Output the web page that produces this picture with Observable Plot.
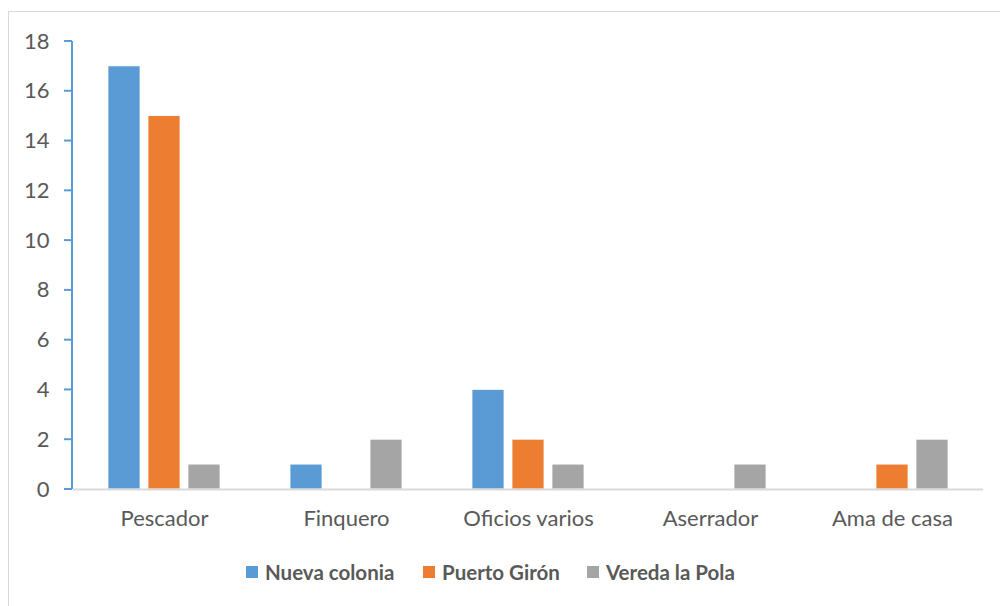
<!DOCTYPE html>
<html>
<head>
<meta charset="utf-8">
<script src="https://cdn.jsdelivr.net/npm/d3@7"></script>
<script src="https://cdn.jsdelivr.net/npm/@observablehq/plot@0.6"></script>
<style>
  html, body { margin: 0; padding: 0; background: #fff; width: 1000px; height: 606px; overflow: hidden; }
  #frame { position: absolute; left: 8px; top: 11px; width: 1100px; height: 700px; border: 1.5px solid #d9d9d9; box-sizing: border-box; }
  #chart { position: absolute; left: 0; top: 0; }
  #legend { position: absolute; left: 0; top: 550px; width: 1000px; height: 56px; font-family: Lato, "Open Sans", sans-serif; font-weight: bold; font-size: 20.5px; color: #595959; }
  .item { position: absolute; top: 10px; display: flex; align-items: center; }
  .sw { width: 12px; height: 12px; margin-right: 7px; }
</style>
</head>
<body>
<div id="frame"></div>
<div id="chart"></div>
<div id="legend"></div>
<script>
// Occupation categories and counts per locality
const categories = ["Pescador", "Finquero", "Oficios varios", "Aserrador", "Ama de casa"];
const seriesNames = ["Nueva colonia", "Puerto Girón", "Vereda la Pola"];
const nuevaColonia = [17, 1, 4, 0, 0];
const puertoGiron = [15, 0, 2, 0, 1];
const veredaLaPola = [1, 2, 1, 1, 2];
const colors = ["#5b9bd5", "#ed7d31", "#a5a5a5"];
const yTicks = [0, 2, 4, 6, 8, 10, 12, 14, 16, 18];

const seriesValues = [nuevaColonia, puertoGiron, veredaLaPola];
const rows = [];
categories.forEach((c, i) => {
  seriesNames.forEach((s, j) => rows.push({category: c, series: s, value: seriesValues[j][i]}));
});

const chart = Plot.plot({
  width: 1000,
  height: 550,
  marginLeft: 72,
  marginRight: 17,
  marginTop: 41,
  marginBottom: 61,
  style: {fontFamily: "Lato, 'Open Sans', sans-serif", color: "#595959", background: "transparent"},
  fx: {domain: categories, padding: 0, label: null},
  x: {domain: seriesNames, paddingInner: 0.21, paddingOuter: 0.83, axis: null},
  y: {domain: [0, 18], label: null},
  color: {domain: seriesNames, range: colors},
  marks: [
    Plot.barY(rows, {fx: "category", x: "series", y: "value", fill: "series", stroke: "#fff", strokeWidth: 0.75}),
    Plot.ruleY([0], {stroke: "#d9d9d9", strokeWidth: 2}),
    Plot.axisY({ticks: yTicks, tickSize: 0, tickPadding: 24, anchor: "left", fill: "#595959", fontSize: 22, label: null}),
    Plot.axisFx({anchor: "bottom", tickSize: 0, tickPadding: 21, fill: "#595959", fontSize: 22, label: null})
  ]
});
document.getElementById("chart").appendChild(chart);

// Blue y axis line with tick marks hanging to its left
const svg = d3.select(chart);
const yScale = chart.scale("y");
const axisG = svg.append("g").attr("stroke", "#5b9bd5").attr("stroke-width", 2);
axisG.append("line").attr("x1", 72).attr("x2", 72)
  .attr("y1", yScale.apply(18)).attr("y2", yScale.apply(0));
yTicks.forEach(t => {
  const yy = yScale.apply(t);
  axisG.append("line").attr("x1", 64).attr("x2", 72).attr("y1", yy).attr("y2", yy);
});

// Legend row
const legendPos = [246, 423, 587];
const legend = document.getElementById("legend");
seriesNames.forEach((s, i) => {
  const item = document.createElement("div");
  item.className = "item";
  item.style.left = legendPos[i] + "px";
  const sw = document.createElement("div");
  sw.className = "sw";
  sw.style.background = colors[i];
  const label = document.createElement("span");
  label.textContent = s;
  item.appendChild(sw);
  item.appendChild(label);
  legend.appendChild(item);
});
</script>
</body>
</html>
